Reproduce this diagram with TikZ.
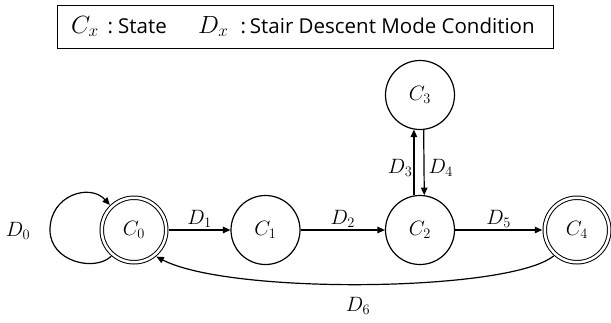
\documentclass[tikz,border=0pt]{standalone}
\usepackage{fontspec}
\setmainfont{Open Sans}
\usetikzlibrary{arrows.meta}
\begin{document}
\begin{tikzpicture}[x=1pt,y=-1pt,
  stnode/.style={circle, draw, line width=1.2pt, minimum size=69pt, inner sep=0pt,
    font=\fontsize{21}{21}\selectfont},
  acnode/.style={circle, draw, line width=1pt, double, double distance=2.5pt,
    minimum size=64.5pt, inner sep=0pt, outer sep=2.5pt, font=\fontsize{21}{21}\selectfont},
  conn/.style={line width=1.2pt, -{Triangle[length=7.5pt,width=6.5pt]}},
  lbl/.style={font=\fontsize{21}{21}\selectfont, inner sep=1pt},
  legtext/.style={font=\fontsize{20.5}{20.5}\selectfont, inner sep=0pt, anchor=base west}]
\useasboundingbox (0,0) rectangle (611,322);
% legend
\draw[line width=0.8pt] (57,5) rectangle (553,48);
\node[legtext] (leg1) at (71,33) {{\fontsize{24}{24}\selectfont$C_x$}\hspace{9pt}:\hspace{5pt}State};
\node[legtext] (leg2) at (198,33) {{\fontsize{24}{24}\selectfont$D_x$}\hspace{12pt}:\hspace{4pt}Stair Descent Mode Condition};
% states
\node[acnode] (c0) at (134,230) {$C_0$};
\node[stnode] (c1) at (265.5,230) {$C_1$};
\node[stnode] (c2) at (420,230) {$C_2$};
\node[stnode] (c3) at (420,95) {$C_3$};
\node[acnode] (c4) at (577,230) {$C_4$};
% transitions
\draw[conn] (c0) -- node[lbl, midway, above=1pt] (d1) {$D_1$} (c1);
\draw[conn] (c1) -- node[lbl, midway, above=1pt] (d2) {$D_2$} (c2);
\draw[conn] (c2) -- node[lbl, midway, above=1pt] (d5) {$D_5$} (c4);
\draw[conn] (c2.100) -- node[lbl, pos=0.42, left=0pt] (d3) {$D_3$} (c3.260);
\draw[conn] (c3.276.7) -- node[lbl, pos=0.58, right=3pt] (d4) {$D_4$} (c2.83.3);
\draw[conn] (c0.229) .. controls (95,272) and (50,262) .. (50,230)
  .. controls (50,195) and (90,183) .. (c0.134);
\node[lbl] (d0) at (18,231) {$D_0$};
\draw[conn] (c4.228) .. controls (510,292) and (230,295) .. (c0.310);
\node[lbl] (d6) at (358,306) {$D_6$};
\end{tikzpicture}
\end{document}
